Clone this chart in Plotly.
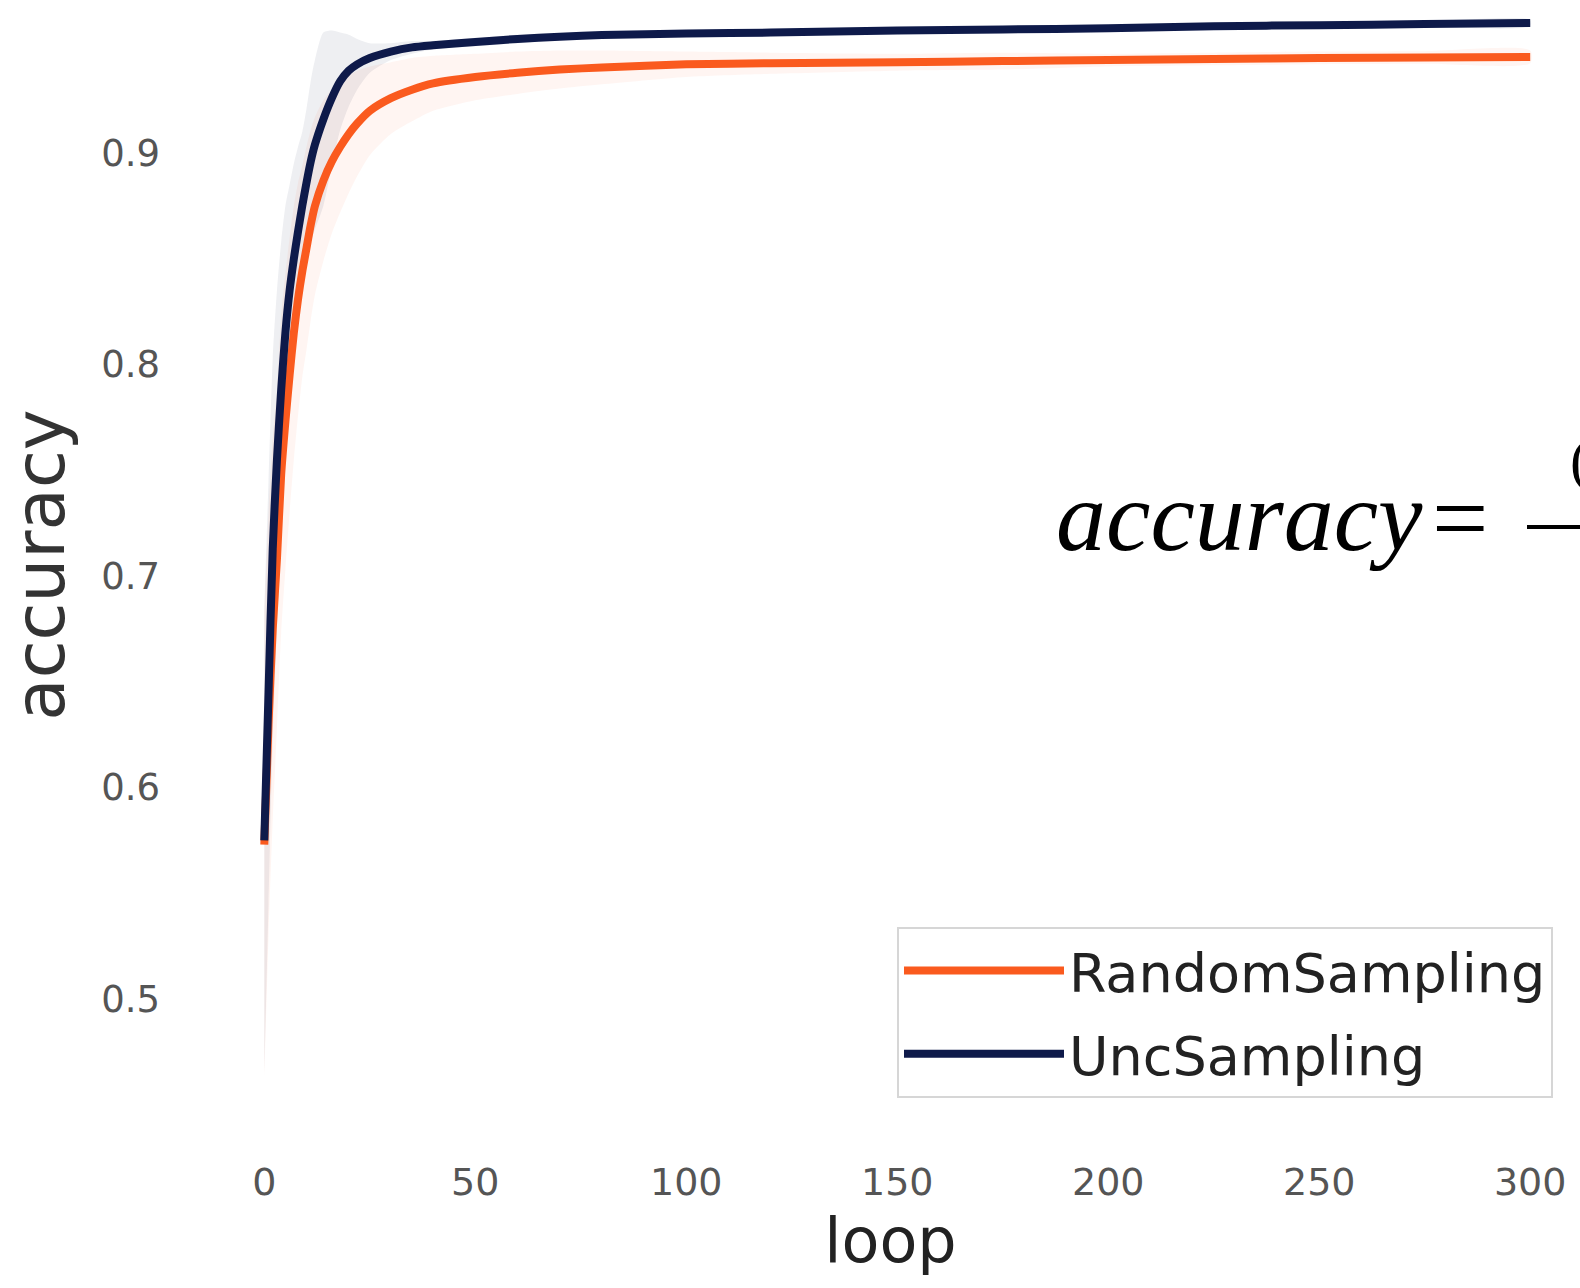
import plotly.graph_objects as go

# ---- data ----
loops = [0, 1, 2, 3, 4, 5, 6, 7, 8, 9, 10, 11, 12, 14, 16, 18, 20, 22, 25, 30,
         35, 40, 50, 60, 70, 80, 100, 120, 150, 175, 200, 225, 250, 275, 300]

random_mean = [0.573, 0.630, 0.675, 0.708, 0.748, 0.773, 0.795, 0.815, 0.831, 0.844,
               0.855, 0.866, 0.875, 0.887, 0.896, 0.903, 0.909, 0.914, 0.920, 0.926,
               0.930, 0.933, 0.936, 0.938, 0.9395, 0.9405, 0.942, 0.9425, 0.943, 0.9435,
               0.944, 0.9445, 0.945, 0.9452, 0.9455]
random_sd = [0.11, 0.10, 0.09, 0.08, 0.075, 0.07, 0.065, 0.06, 0.055, 0.05,
             0.048, 0.045, 0.042, 0.038, 0.034, 0.031, 0.028, 0.025, 0.021, 0.017,
             0.015, 0.013, 0.011, 0.010, 0.009, 0.008, 0.006, 0.005, 0.004, 0.004,
             0.003, 0.003, 0.003, 0.003, 0.003]

unc_mean = [0.575, 0.645, 0.713, 0.755, 0.788, 0.815, 0.835, 0.850, 0.863, 0.875,
            0.886, 0.896, 0.904, 0.916, 0.926, 0.934, 0.939, 0.942, 0.945, 0.948,
            0.950, 0.951, 0.9525, 0.954, 0.955, 0.9558, 0.9566, 0.957, 0.958, 0.9585,
            0.959, 0.960, 0.9605, 0.961, 0.9615]
unc_sd = [0.11, 0.10, 0.09, 0.08, 0.07, 0.06, 0.05, 0.045, 0.04, 0.035,
          0.035, 0.038, 0.04, 0.041, 0.032, 0.023, 0.017, 0.012, 0.007, 0.004,
          0.003, 0.002, 0.002, 0.002, 0.0015, 0.0015, 0.0015, 0.0015, 0.0015, 0.0015,
          0.0015, 0.0015, 0.0015, 0.0015, 0.0015]

series_names = ["RandomSampling", "UncSampling"]
x_ticks = [0, 50, 100, 150, 200, 250, 300]
y_ticks = [0.5, 0.6, 0.7, 0.8, 0.9]

ORANGE = "#FA5A1E"
NAVY = "#0E1A4A"


def band(mean, sd, rgba):
    upper = [m + s for m, s in zip(mean, sd)]
    lower = [m - s for m, s in zip(mean, sd)]
    return go.Scatter(x=loops + loops[::-1], y=upper + lower[::-1],
                      fill="toself", fillcolor=rgba,
                      line=dict(width=0, shape="spline", smoothing=0.7),
                      mode="lines", hoverinfo="skip", showlegend=False)


fig = go.Figure()
fig.add_trace(band(random_mean, random_sd, "rgba(250,90,30,0.06)"))
fig.add_trace(band(unc_mean, unc_sd, "rgba(14,26,74,0.07)"))
fig.add_trace(go.Scatter(x=loops, y=random_mean, mode="lines", name=series_names[0],
                         legendgroup="a",
                         line=dict(color=ORANGE, width=8, shape="spline", smoothing=0.7)))
fig.add_trace(go.Scatter(x=loops, y=unc_mean, mode="lines", name=series_names[1],
                         legendgroup="b",
                         line=dict(color=NAVY, width=8, shape="spline", smoothing=0.7)))

L, B = 201, 158
W, H = 1580, 1288
pw, ph = W - L, H - B


def px_x(p):
    return (p - L) / pw


def px_y(p):
    return (ph - p) / ph


fig.update_layout(
    width=W, height=H,
    margin=dict(l=L, r=0, t=0, b=B, pad=0),
    paper_bgcolor="white", plot_bgcolor="white",
    font=dict(family="DejaVu Sans", color="#333"),
    legend=dict(x=px_x(897), xanchor="left", y=px_y(1098), yanchor="bottom",
                bgcolor="white", bordercolor="#d6d6d6", borderwidth=2,
                font=dict(size=54, color="#222"), traceorder="grouped",
                tracegroupgap=10, itemwidth=160),
)
fig.update_xaxes(range=[-15, 311.8], tickvals=x_ticks, showgrid=False, zeroline=False,
                 showline=False, ticks="", ticklabelstandoff=26,
                 tickfont=dict(size=38, color="#555"),
                 title=dict(text="loop", font=dict(size=62, color="#222"), standoff=10))
fig.update_yaxes(range=[0.438, 0.9724], tickvals=y_ticks, showgrid=False, zeroline=False,
                 showline=False, ticks="", ticklabelstandoff=40,
                 tickfont=dict(size=37, color="#555"),
                 title=dict(text="accuracy", font=dict(size=69, color="#333"), standoff=14))

# formula text partially cut by the page edge
fig.add_annotation(xref="paper", yref="paper", x=px_x(1054), y=px_y(516),
                   xanchor="left", yanchor="middle", showarrow=False,
                   text="<i>accuracy</i>",
                   font=dict(family="Liberation Serif", size=100, color="black"))
fig.add_annotation(xref="paper", yref="paper", x=px_x(1430), y=px_y(518),
                   xanchor="left", yanchor="middle", showarrow=False,
                   text="=",
                   font=dict(family="Liberation Serif", size=100, color="black"))
fig.add_annotation(xref="paper", yref="paper", x=px_x(1568), y=px_y(460),
                   xanchor="left", yanchor="middle", showarrow=False,
                   text="(TP + TN)",
                   font=dict(family="Liberation Serif", size=60, color="black"))
fig.add_shape(type="line", xref="paper", yref="paper", x0=px_x(1527), x1=1.05,
              y0=px_y(527), y1=px_y(527), line=dict(color="black", width=4))

fig.write_html("out.html")
